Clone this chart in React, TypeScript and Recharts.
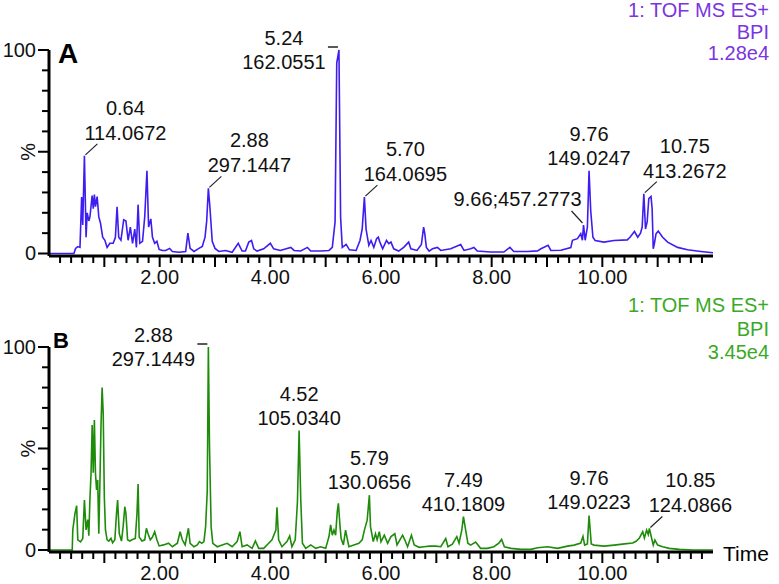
import { LineChart, Line, XAxis, YAxis, ReferenceDot } from "recharts";

// ---- trace A (blue): retention time (min) / relative intensity (%)
const timeA = [
  0.0, 0.45, 0.48, 0.52, 0.56, 0.59, 0.61, 0.64, 0.67, 0.69, 0.72, 0.74, 0.78, 0.8, 0.82, 0.84, 0.87, 0.9, 0.93, 0.97,
  1.01, 1.05, 1.1, 1.16, 1.2, 1.23, 1.26, 1.3, 1.35, 1.39, 1.43, 1.47, 1.51, 1.55, 1.58, 1.61, 1.64, 1.69, 1.73, 1.77,
  1.8, 1.84, 1.87, 1.91, 1.95, 1.99, 2.05, 2.11, 2.18, 2.23, 2.35, 2.47, 2.51, 2.55, 2.62, 2.71, 2.77, 2.82, 2.85, 2.88,
  2.91, 2.95, 3.0, 3.07, 3.19, 3.31, 3.42, 3.49, 3.55, 3.61, 3.66, 3.7, 3.76, 3.88, 4.0, 4.06, 4.18, 4.37, 4.43, 4.55,
  4.67, 4.73, 4.91, 5.06, 5.12, 5.17, 5.2, 5.24, 5.27, 5.3, 5.37, 5.43, 5.55, 5.62, 5.66, 5.7, 5.73, 5.78, 5.82, 5.87,
  5.92, 5.95, 5.98, 6.03, 6.1, 6.14, 6.18, 6.23, 6.32, 6.41, 6.5, 6.54, 6.65, 6.73, 6.77, 6.79, 6.82, 6.87, 6.93, 7.02,
  7.08, 7.26, 7.44, 7.5, 7.62, 7.68, 7.74, 7.98, 8.22, 8.33, 8.4, 8.65, 8.83, 8.89, 9.02, 9.07, 9.25, 9.43, 9.46, 9.55,
  9.61, 9.64, 9.66, 9.69, 9.73, 9.76, 9.79, 9.83, 9.87, 10.03, 10.21, 10.45, 10.5, 10.58, 10.64, 10.69, 10.72, 10.75, 10.78, 10.81,
  10.84, 10.88, 10.9, 10.92, 10.94, 10.97, 11.01, 11.09, 11.18, 11.36, 11.54, 11.78, 12.0,
];
const bpiA = [
  0, 0, 2.5, 3.4, 3.0, 27.7, 14, 48, 8, 20, 16, 18, 28.5, 22, 29, 23, 28, 18, 15, 8,
  6.5, 3, 5, 5, 8, 23, 8, 6.5, 16.6, 16, 6.5, 13, 5, 12, 3, 24, 5, 6, 18, 40.6,
  13, 17, 8, 5, 6, 2, 1.5, 1.5, 2.5, 1, 0.6, 1, 10, 2.5, 1, 2.5, 3.5, 8, 16, 32,
  22, 6, 2.5, 1, 1.5, 0.6, 5, 1.2, 1.2, 5.6, 6.4, 2.3, 1.2, 2.3, 5, 2.3, 1.5, 3, 1.5, 1.2,
  3, 1.2, 1.2, 1.5, 3, 15.5, 93.6, 100, 17.7, 3, 4.5, 1.8, 1.5, 6.4, 12, 27.7, 12, 4, 6.4, 3,
  7.3, 8, 5.6, 2.3, 6.4, 4.8, 5.6, 2.3, 1.2, 3, 5.6, 2.3, 1.5, 4.4, 13, 10, 3, 1.2, 2.3, 3,
  1.5, 2.3, 4.4, 1.5, 2.3, 3, 1.2, 0.7, 0.7, 3, 1, 1, 1.3, 2.3, 4, 1.5, 1.6, 2.9, 6.5, 7.3,
  9.7, 6.5, 14, 6.5, 13, 40.6, 21, 8, 6.4, 5.6, 6.4, 6.7, 8, 10.8, 8, 10, 13, 29.4, 12, 15.5,
  27, 28, 22, 2.3, 4.8, 9.7, 11, 8, 5.6, 3, 1.8, 1, 0.4,
];

// ---- trace B (green)
const timeB = [
  0.0, 0.42, 0.43, 0.47, 0.5, 0.52, 0.57, 0.61, 0.64, 0.67, 0.7, 0.72, 0.74, 0.76, 0.78, 0.8, 0.82, 0.84, 0.86, 0.88,
  0.9, 0.92, 0.94, 0.96, 0.98, 1.0, 1.02, 1.05, 1.08, 1.12, 1.15, 1.19, 1.22, 1.24, 1.27, 1.31, 1.34, 1.37, 1.39, 1.42,
  1.46, 1.5, 1.56, 1.59, 1.61, 1.63, 1.68, 1.73, 1.76, 1.79, 1.83, 1.87, 1.91, 1.95, 1.99, 2.07, 2.16, 2.23, 2.32, 2.37,
  2.41, 2.46, 2.52, 2.55, 2.62, 2.68, 2.72, 2.76, 2.8, 2.83, 2.86, 2.88, 2.9, 2.93, 2.96, 3.04, 3.13, 3.22, 3.31, 3.4,
  3.45, 3.49, 3.58, 3.67, 3.73, 3.79, 3.88, 3.97, 4.03, 4.1, 4.12, 4.15, 4.21, 4.3, 4.35, 4.39, 4.45, 4.49, 4.52, 4.55,
  4.58, 4.64, 4.73, 4.82, 4.91, 5.0, 5.06, 5.09, 5.12, 5.15, 5.18, 5.21, 5.23, 5.26, 5.28, 5.32, 5.36, 5.39, 5.42, 5.51,
  5.6, 5.66, 5.7, 5.75, 5.79, 5.81, 5.86, 5.9, 5.93, 5.97, 6.0, 6.06, 6.12, 6.18, 6.25, 6.29, 6.39, 6.43, 6.48, 6.55,
  6.6, 6.69, 6.78, 6.87, 6.99, 7.08, 7.17, 7.21, 7.29, 7.37, 7.41, 7.46, 7.49, 7.53, 7.57, 7.62, 7.71, 7.8, 7.92, 8.04,
  8.13, 8.18, 8.23, 8.35, 8.53, 8.71, 8.83, 9.01, 9.19, 9.37, 9.49, 9.61, 9.65, 9.68, 9.73, 9.76, 9.8, 9.85, 10.03, 10.21,
  10.4, 10.55, 10.61, 10.67, 10.73, 10.76, 10.8, 10.83, 10.85, 10.89, 10.92, 10.95, 11.0, 11.09, 11.21, 11.39, 11.63, 12.0,
];
const bpiB = [
  0, 0, 9.9, 18, 21.8, 5, 4, 5.7, 24.6, 9.9, 15, 7, 25.5, 37.7, 61.6, 38, 64, 37.7, 29.6, 34.5,
  8, 33, 61.6, 80, 67.3, 26, 10, 5, 4.4, 5.7, 3.5, 5, 18, 24.6, 8, 4.4, 11.5, 21.3, 18, 5,
  4.4, 5, 5.7, 18, 32.5, 6.4, 4.4, 5, 10.7, 8, 5, 6.4, 9, 5, 2, 2.5, 3.3, 1.6, 3.3, 9,
  5, 2.5, 10.7, 3.3, 1.6, 2.5, 4.1, 3.3, 4.1, 11.5, 28.9, 100, 52, 11.5, 3.3, 1.6, 2.5, 3.3, 1.6, 4.1,
  9, 1.6, 2.5, 0.8, 4.4, 0.8, 0.8, 3.3, 5, 9.8, 21, 5, 1.6, 4.1, 6.9, 1.6, 5, 23.8, 58.8, 24.6,
  3.3, 0.8, 2.5, 0.8, 1.6, 0.8, 6.6, 12.4, 7.3, 9.8, 7.3, 19, 23, 11.5, 5.6, 2.5, 9.8, 5.6, 1.6, 2.5,
  3.3, 5, 9.8, 14.7, 27, 11.5, 4.1, 8, 5, 9, 4.1, 7.3, 3.3, 6.6, 8, 2.5, 7.3, 5, 1.6, 7.3,
  2.5, 1.3, 1.6, 1.9, 1.9, 1.6, 5.6, 1.6, 2.9, 6.6, 3.3, 9.8, 16.4, 9.8, 3.3, 2.4, 3.9, 0.8, 0.8, 1.6,
  3.4, 5.2, 1.6, 0.8, 0.3, 0.3, 1.1, 1.6, 0.8, 1.9, 2.4, 3.4, 6.7, 2.4, 3.0, 17, 3.0, 2.4, 1.9, 2.4,
  3.0, 3.4, 4.3, 5.9, 9, 5.9, 9.8, 7.6, 10.6, 5.9, 2.4, 4.9, 2.4, 1.6, 0.8, 0.3, 0, 0,
];

// ---- labelled peaks
const peakTimeA = [0.64, 2.88, 5.24, 5.7, 9.66, 9.76, 10.75];
const peakMzA = ["114.0672", "297.1447", "162.0551", "164.0695", "457.2773", "149.0247", "413.2672"];
const peakTimeB = [2.88, 4.52, 5.79, 7.49, 9.76, 10.85];
const peakMzB = ["297.1449", "105.0340", "130.0656", "410.1809", "149.0223", "124.0866"];

// ---- axes
const xTicks = [
  0.2, 0.4, 0.6, 0.8, 1, 1.2, 1.4, 1.6, 1.8, 2, 2.2, 2.4, 2.6, 2.8, 3, 3.2, 3.4, 3.6, 3.8, 4,
  4.2, 4.4, 4.6, 4.8, 5, 5.2, 5.4, 5.6, 5.8, 6, 6.2, 6.4, 6.6, 6.8, 7, 7.2, 7.4, 7.6, 7.8, 8,
  8.2, 8.4, 8.6, 8.8, 9, 9.2, 9.4, 9.6, 9.8, 10, 10.2, 10.4, 10.6, 10.8, 11, 11.2, 11.4, 11.6, 11.8,
];
const xLabelled = [2, 4, 6, 8, 10];
const xLabels = ["2.00", "4.00", "6.00", "8.00", "10.00"];
const yTicks = [0, 10, 20, 30, 40, 50, 60, 70, 80, 90, 100];
const yLabels = ["0", "", "", "", "", "%", "", "", "", "", "100"];

const FONT = "'Liberation Sans', Arial, sans-serif";
const BLUE = "#3d1df2";
const GREEN = "#1e8c0a";

const txt = { fontFamily: FONT, fontSize: 20, fill: "#111", textAnchor: "middle" as const, dominantBaseline: "central" as const };

function TimeTick({ x, y, payload, gap }: any) {
  const v = payload.value;
  const major = Math.abs(v - Math.round(v)) < 1e-6;
  const idx = xLabelled.indexOf(Math.round(v));
  return (
    <g>
      <line x1={x} y1={y} x2={x} y2={y + (major ? 11 : 7)} stroke="#000" strokeWidth={2} />
      {major && idx >= 0 && (
        <text x={x} y={y + gap} {...txt}>{xLabels[idx]}</text>
      )}
    </g>
  );
}

function PctTick({ x, y, payload }: any) {
  const v = payload.value;
  const label = yLabels[yTicks.indexOf(v)];
  const major = label !== "";
  return (
    <g>
      <line x1={x - (major ? 11 : 7)} y1={y} x2={x} y2={y} stroke="#000" strokeWidth={2} />
      {label === "%" ? (
        <text x={x - 21} y={y} {...txt} transform={`rotate(-90 ${x - 21} ${y})`}>%</text>
      ) : major ? (
        <text x={x - 13} y={y} {...txt} textAnchor="end">{label}</text>
      ) : null}
    </g>
  );
}

function PeakTag({ cx, cy, rt, mz, kind }: any) {
  const rtText = rt.toFixed(2);
  if (kind === "base") {
    return (
      <g>
        <line x1={cx - 11} y1={cy - 3} x2={cx - 1} y2={cy - 3} stroke="#222" strokeWidth={1.5} />
        <text x={cx - 55} y={cy - 12} {...txt}>{rtText}</text>
        <text x={cx - 55} y={cy + 12} {...txt}>{mz}</text>
      </g>
    );
  }
  if (kind === "above") {
    return (
      <g>
        <text x={cx} y={cy - 37} {...txt}>{rtText}</text>
        <text x={cx} y={cy - 13} {...txt}>{mz}</text>
      </g>
    );
  }
  if (kind === "inline") {
    return (
      <g>
        <line x1={cx - 1} y1={cy - 2} x2={cx - 12} y2={cy - 14} stroke="#222" strokeWidth={1.2} />
        <text x={cx - 2} y={cy - 26} {...txt} textAnchor="end">{`${rtText};${mz}`}</text>
      </g>
    );
  }
  return (
    <g>
      <line x1={cx + 1} y1={cy - 1} x2={cx + 13} y2={cy - 12} stroke="#222" strokeWidth={1.2} />
      <text x={cx + 41} y={cy - 48} {...txt}>{rtText}</text>
      <text x={cx + 41} y={cy - 23} {...txt}>{mz}</text>
    </g>
  );
}

interface PanelProps {
  times: number[];
  values: number[];
  peakTimes: number[];
  peakMz: string[];
  kinds: string[];
  color: string;
  height: number;
  axisHeight: number;
  yMin: number;
  gap: number;
}

function Panel({ times, values, peakTimes, peakMz, kinds, color, height, axisHeight, yMin, gap }: PanelProps) {
  const data = times.map((t, i) => ({ t, v: values[i] }));
  return (
    <LineChart width={779} height={height} data={data} margin={{ top: 50, right: 66, bottom: 0, left: 0 }}>
      <XAxis
        dataKey="t"
        type="number"
        domain={[0, 12]}
        ticks={xTicks}
        interval={0}
        height={axisHeight}
        tickSize={0}
        tickMargin={0}
        tickLine={false}
        axisLine={{ stroke: "#000", strokeWidth: 3 }}
        tick={<TimeTick gap={gap} />}
      />
      <YAxis
        type="number"
        domain={[yMin, 100]}
        ticks={yTicks}
        interval={0}
        width={49}
        tickSize={0}
        tickMargin={0}
        tickLine={false}
        axisLine={{ stroke: "#000", strokeWidth: 3 }}
        tick={<PctTick />}
      />
      <Line type="linear" dataKey="v" stroke={color} strokeWidth={1.6} dot={false} isAnimationActive={false} />
      {peakTimes.map((rt, i) => (
        <ReferenceDot
          key={rt}
          x={rt}
          y={values[times.indexOf(rt)]}
          r={0}
          shape={(p: any) => <PeakTag cx={p.cx} cy={p.cy} rt={rt} mz={peakMz[i]} kind={kinds[i]} />}
        />
      ))}
    </LineChart>
  );
}

export default function App() {
  return (
    <div style={{ position: "absolute", left: 0, top: 0, width: 779, height: 584, background: "#fff", overflow: "hidden" }}>
      <div style={{ position: "absolute", left: 0, top: 0 }}>
        <Panel
          times={timeA}
          values={bpiA}
          peakTimes={peakTimeA}
          peakMz={peakMzA}
          kinds={["ne", "ne", "base", "ne", "inline", "above", "ne"]}
          color={BLUE}
          height={290}
          axisHeight={34}
          yMin={-1.23}
          gap={21}
        />
      </div>
      <div style={{ position: "absolute", left: 0, top: 297 }}>
        <Panel
          times={timeB}
          values={bpiB}
          peakTimes={peakTimeB}
          peakMz={peakMzB}
          kinds={["base", "above", "above", "above", "above", "ne"]}
          color={GREEN}
          height={287}
          axisHeight={32}
          yMin={-1.0}
          gap={21}
        />
      </div>
      <svg width={779} height={584} style={{ position: "absolute", left: 0, top: 0, pointerEvents: "none" }}>
        <text x={58} y={63} fontFamily={FONT} fontSize={28} fontWeight="bold" fill="#000">A</text>
        <text x={53} y={348} fontFamily={FONT} fontSize={22} fontWeight="bold" fill="#000">B</text>
        <g fontFamily={FONT} fontSize={20} textAnchor="end" fill="#7a35e0">
          <text x={769} y={17}>1: TOF MS ES+</text>
          <text x={769} y={39}>BPI</text>
          <text x={769} y={60}>1.28e4</text>
        </g>
        <g fontFamily={FONT} fontSize={20} textAnchor="end" fill="#3aaa25">
          <text x={769} y={312}>1: TOF MS ES+</text>
          <text x={769} y={336}>BPI</text>
          <text x={769} y={359}>3.45e4</text>
        </g>
        <text x={723} y={561} fontFamily={FONT} fontSize={21} fill="#000">Time</text>
      </svg>
    </div>
  );
}
